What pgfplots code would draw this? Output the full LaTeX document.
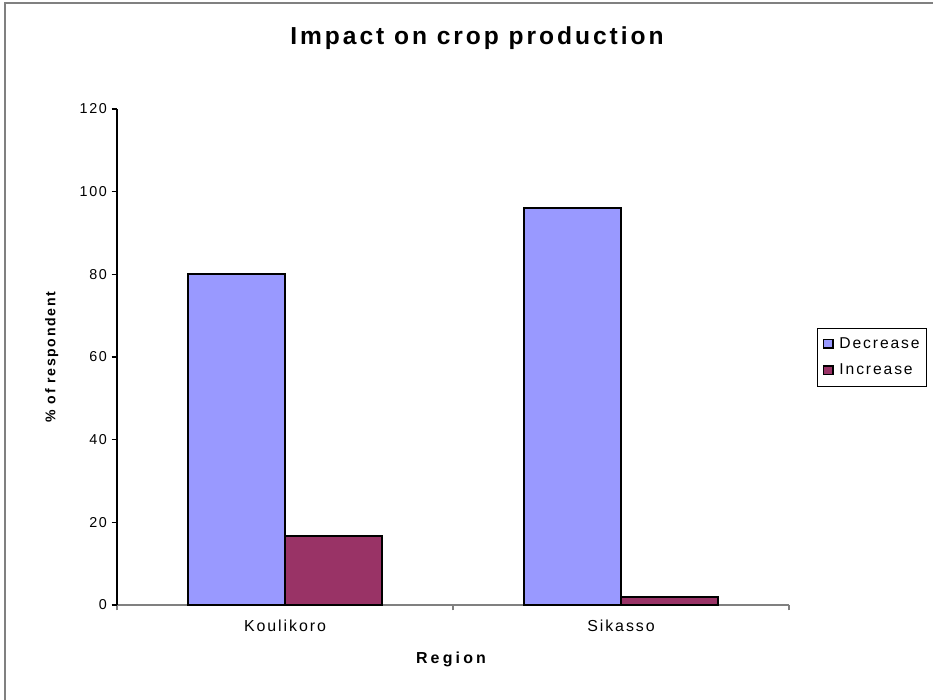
\documentclass[border=0pt]{standalone}
\usepackage{pgfplots}
\pgfplotsset{compat=1.18}
\usepackage{fontspec}
\setmainfont[LetterSpace=12]{Liberation Sans}
\newfontfamily\widefont[LetterSpace=20]{Liberation Sans}
\definecolor{decr}{HTML}{9999FF}
\definecolor{incr}{HTML}{993366}
\definecolor{frame}{HTML}{808080}
\begin{document}
\begin{tikzpicture}
% page area and outer chart frame
\useasboundingbox (0bp,0bp) rectangle (699.75bp,-525bp);
\draw[frame, line width=1.5bp] (3.75bp,-525bp) -- (3.75bp,-2.6bp) -- (699.75bp,-2.6bp);
\node[font=\bfseries\fontsize{18.5}{21}\selectfont] at (357.75bp,-28.5bp) {Impact on crop production};
\begin{axis}[
  at={(87.75bp,-453.75bp)}, anchor=south west,
  scale only axis, width=504bp, height=372bp,
  xmin=-0.5, xmax=1.5, ymin=0, ymax=120,
  axis x line*=bottom, axis y line*=left,
  x axis line style={draw=frame, line width=0.9bp},
  y axis line style={draw=black, line width=0.9bp},
  ytick={0,20,...,120},
  xtick={0,1}, xticklabels={Koulikoro,Sikasso},
  minor xtick={-0.5,0.5,1.5},
  tick align=outside,
  major tick length=4bp, minor tick length=4bp,
  major x tick style={draw=none},
  minor x tick style={draw=frame, line width=0.9bp},
  y tick style={draw=black, line width=0.9bp},
  /pgf/number format/assume math mode=true,
  yticklabel style={font=\fontsize{10.8}{12}\selectfont},
  xticklabel style={yshift=-4bp, font=\fontsize{12}{14}\selectfont},
  ylabel={\% of respondent},
  ylabel style={at={(axis description cs:-0.097,0.5)}, anchor=center,
    font=\bfseries\fontsize{10.6}{12}\selectfont},
  xlabel={Region},
  xlabel style={at={(axis description cs:0.497,-0.11)}, anchor=center,
    font=\widefont\bfseries\fontsize{12}{14}\selectfont},
  ybar=0pt, bar width=0.289,
  legend style={at={(1.0417,0.5)}, anchor=west, draw=black, line width=0.6bp,
    font=\fontsize{11.8}{14}\selectfont, row sep=6.5bp,
    inner xsep=3bp, inner ysep=5bp},
  legend cell align=left,
  legend image code/.code={%
    \draw[#1, line width=1bp] (1bp,-3.3bp) rectangle (7.8bp,3.3bp);
    \path (0bp,0bp) (10bp,0bp);},
]
\addplot[fill=decr, draw=black, line width=1.5bp] coordinates {(0,80) (1,96)};
\addplot[fill=incr, draw=black, line width=1.5bp] coordinates {(0,16.6) (1,2)};
\legend{Decrease,Increase}
\end{axis}
\end{tikzpicture}
\end{document}
